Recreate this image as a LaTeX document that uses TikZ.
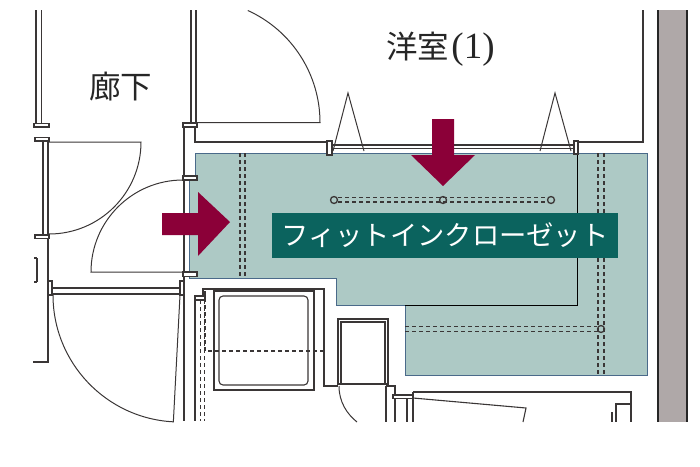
\documentclass[tikz,border=0pt]{standalone}
\usepackage{fontspec}
\setmainfont{Liberation Serif}
\newfontfamily\cjk{Noto Sans CJK JP}
\usetikzlibrary{positioning}
\definecolor{closetfill}{HTML}{ADC9C5}
\definecolor{closetedge}{HTML}{4A6A8A}
\definecolor{bannerfill}{HTML}{0B635E}
\definecolor{arrowfill}{HTML}{8B0038}
\definecolor{planline}{HTML}{3A3636}
\definecolor{outerwall}{HTML}{AFA8A8}
\tikzset{
	wall/.style={draw=planline, line width=1.1pt},
	swing/.style={draw=planline, line width=1pt},
	hidden/.style={draw=planline, line width=1.2pt, dash pattern=on 4pt off 3pt},
	post/.style={draw=planline, line width=1.1pt, fill=white},
	pin/.style={circle, draw=planline, line width=1.3pt, minimum size=7pt, inner sep=0pt},
	roomlabel/.style={text=black!85, font=\fontsize{31.5}{32}\selectfont},
}
\begin{document}
\begin{tikzpicture}[x=1pt, y=-1pt]
	\useasboundingbox (0,0) rectangle (700,466);
	% Draw the closet floor
	\draw[fill=closetfill, draw=closetedge, line width=0.8pt]
		(195,153) -- (647,153) -- (647,375) -- (405,375) -- (405,305) -- (336,305)
		-- (336,278) -- (189,278) -- (189,178) -- (195,178) -- cycle;
	\draw[line width=1pt, draw=black] (577,153) -- (577,305) -- (405,305);
	% Draw the hanging rails
	\foreach \x in {240,245} \draw[hidden] (\x,153) -- (\x,278);
	\foreach \x in {598,604} \draw[hidden] (\x,153) -- (\x,375);
	\foreach \y in {197.5,202} \draw[hidden] (338,\y) -- (547,\y);
	\foreach \y in {326.5,331.5} \draw[hidden] (405,\y) -- (597,\y);
	\node[pin] (pin1) at (334,200) {};
	\node[pin] (pin2) at (443,200) {};
	\node[pin] (pin3) at (551,200) {};
	\node[pin] (pin4) at (601,329) {};
	% Draw the left corridor wall
	\draw[wall] (36,10) -- (36,124) (41.5,10) -- (41.5,124);
	\draw[wall] (43,141) -- (43,236) (48,141) -- (48,362) -- (33,362);
	\draw[wall] (37,258) -- (37,282) (34,258) -- (37,258) (34,282) -- (37,282);
	\draw[post] (34,123.5) rectangle (49,127);
	\draw[post] (35,137.5) rectangle (49,141);
	\draw[post] (35,235) rectangle (49,238.5);
	% Draw the middle wall
	\draw[wall] (191,10) -- (191,123) (196,10) -- (196,123);
	\draw[wall] (184,127) -- (184,176) (195,127) -- (195,142) -- (327,142);
	\draw[wall] (184,178) -- (184,421);
	\draw[wall] (195,298) -- (195,421);
	\draw[post] (183,123) rectangle (197,127);
	\draw[post] (183,176) rectangle (197,180);
	\draw[post] (183,272) rectangle (197,276.5);
	% Draw the doors
	\draw[swing] (197,122.5) -- (320,122.5) arc[start angle=0, end angle=-65.6, radius=123];
	\draw[swing] (49,142) -- (141,142) arc[start angle=0, delta angle=90, radius=92];
	\draw[swing] (183,180) arc[start angle=-90, delta angle=-90, radius=92] -- (184,272);
	\draw[wall] (52,288) -- (180,288) (52,294) -- (180,294);
	\draw[post] (48,281) rectangle (52,295);
	\draw[post] (180,281) rectangle (184,295);
	\draw[swing] (53,295) arc[start angle=180, delta angle=-87, radius=127] -- (180,295);
	% Draw the window wall of the room
	\draw[wall] (332,145) -- (575,145) (332,148.5) -- (575,148.5);
	\draw[post] (327,141) rectangle (332,155);
	\draw[post] (574,141) rectangle (578,154);
	\draw[wall] (578,142) -- (643,142) -- (643,10);
	\draw[swing] (333,151) -- (348,93) -- (364,151);
	\draw[swing] (540,151) -- (555,93) -- (571,151);
	% Draw the outer wall
	\fill[outerwall] (658,10) rectangle (687,422);
	\draw[line width=1.5pt, draw=black!85] (658,10) -- (658,422) (687,10) -- (687,422);
	% Draw the bath
	\draw[wall] (203,296) -- (203,289) -- (324,289) -- (324,386) -- (338,386);
	\draw[post] (195,296) rectangle (205,300);
	\foreach \x in {200.5,204.5} \draw[hidden] (\x,300) -- (\x,421);
	\draw[hidden] (205,291) -- (205,351) -- (324,351);
	\draw[wall] (214,291) rectangle (314,390);
	\draw[wall, rounded corners=4pt] (219,296) rectangle (308,385);
	% Draw the lower cupboard
	\draw[wall] (338,319) rectangle (388,384);
	\draw[wall] (341,322) rectangle (385,384);
	\draw[swing] (339,386) .. controls (339,402) and (347,414) .. (357,422);
	\draw[wall] (386,386) -- (386,422) (386,386) -- (395,386) -- (395,396) (395,399) -- (395,422);
	\draw[wall] (407,398) -- (407,422) (413,392) -- (413,422);
	\draw[post] (393,395) rectangle (413,398.5);
	\draw[wall] (413,392) -- (631,392) -- (631,422) (631,404) -- (616,404) -- (616,422) (612,412) -- (612,422);
	\draw[wall] (413,398) -- (526,408) -- (523,422);
	% Draw the arrows
	\fill[arrowfill] (432,119) -- (454,119) -- (454,155) -- (475,155) -- (443,186) -- (411,155) -- (432,155) -- cycle;
	\fill[arrowfill] (162,213) -- (198,213) -- (198,192) -- (230,222) -- (198,256) -- (198,235) -- (162,235) -- cycle;
	% Draw the labels
	\node[fill=bannerfill, minimum width=346pt, minimum height=45pt, inner sep=0pt,
		text=white, font=\cjk\fontsize{27.3}{27.3}\selectfont] (banner) at (445,235.5) {フィットインクローゼット};
	\node[roomlabel] (hall) at (120.5,87) {\cjk 廊下};
	\node[roomlabel] (room) at (440.5,49) {{\cjk 洋室}\hspace{2pt}{\fontsize{37}{37}\selectfont(1)}};
\end{tikzpicture}
\end{document}
